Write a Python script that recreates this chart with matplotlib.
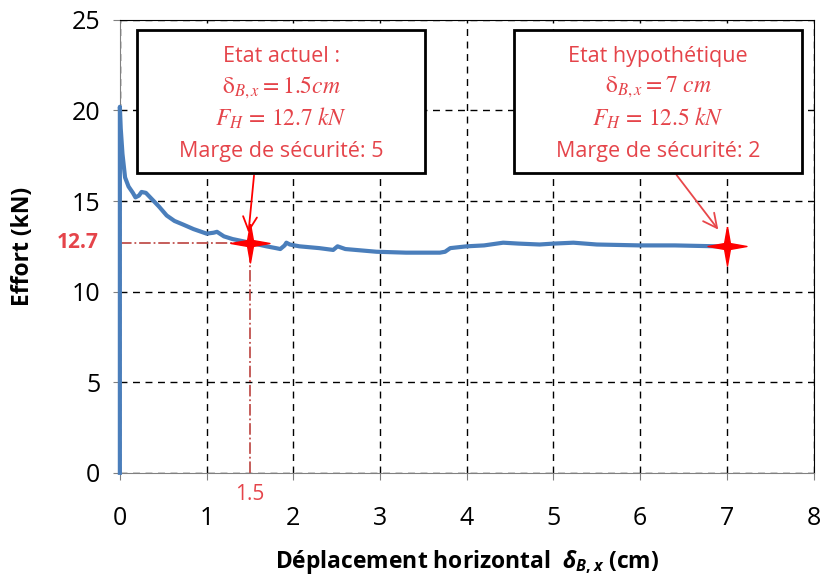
import matplotlib.pyplot as plt
from matplotlib.path import Path
from matplotlib.patches import Rectangle

plt.rcParams['font.family'] = ['Open Sans', 'DejaVu Sans']
plt.rcParams['mathtext.fontset'] = 'custom'
plt.rcParams['mathtext.it'] = 'Open Sans:italic:bold'
plt.rcParams['mathtext.rm'] = 'Open Sans:bold'

# courbe effort / deplacement
depl = [0, 0, 0.01, 0.03, 0.06, 0.1, 0.15, 0.18, 0.22, 0.25, 0.3, 0.35, 0.45, 0.54,
        0.63, 0.73, 0.85, 1.0, 1.08, 1.12, 1.2, 1.3, 1.5, 1.69, 1.8, 1.85, 1.9, 1.92,
        1.96, 2.07, 2.3, 2.46, 2.51, 2.6, 2.96, 3.3, 3.69, 3.75, 3.81, 4.0, 4.2, 4.42,
        4.6, 4.84, 5.0, 5.23, 5.5, 6.0, 6.4, 6.89, 7.0]
effort = [0, 20.2, 19.0, 17.6, 16.3, 15.8, 15.45, 15.2, 15.3, 15.5, 15.45, 15.2, 14.7, 14.2,
          13.9, 13.7, 13.45, 13.2, 13.25, 13.3, 13.05, 12.9, 12.7, 12.5, 12.4, 12.35, 12.55, 12.7,
          12.6, 12.5, 12.4, 12.3, 12.5, 12.35, 12.2, 12.15, 12.15, 12.2, 12.4, 12.5, 12.55, 12.7,
          12.65, 12.6, 12.65, 12.7, 12.6, 12.55, 12.55, 12.5, 12.5]

# points remarquables
pts_x = [1.5, 7.0]
pts_y = [12.7, 12.5]
titres = ["Etat actuel :", "Etat hypothétique"]
lignes_delta = [r"$\mathrm{\delta}_{B,x} = 1.5cm$", r"$\mathrm{\delta}_{B,x} = 7\ cm$"]
lignes_f = [r"$F_H\,=\,12.7\;kN$", r"$F_H\,=\,12.5\;kN$"]
marges = ["Marge de sécurité: 5", "Marge de sécurité: 2"]

red_txt = '#E5444A'
star = Path([(0, 1), (0.15, 0.15), (1, 0), (0.15, -0.15), (0, -1), (-0.15, -0.15),
             (-1, 0), (-0.15, 0.15), (0, 1)])

fig = plt.figure(figsize=(8.21, 5.83), dpi=100)
ax = fig.add_axes([0.146, 0.189, 0.845, 0.777])

ax.plot(depl, effort, color='#4A7EBB', lw=3, zorder=3, clip_on=False)

# lignes de rappel
ax.plot([0, pts_x[0]], [pts_y[0], pts_y[0]], color='#C0504D', lw=1.3, ls='-.', zorder=2)
ax.plot([pts_x[0], pts_x[0]], [0, pts_y[0]], color='#C0504D', lw=1.3, ls='-.', zorder=2)
ax.plot(pts_x, pts_y, ls='none', marker=star, ms=28, color='red', zorder=5, clip_on=False)

# cadres d'annotation
boites = [(0.2, 3.52), (4.54, 7.87)]
for (x0, x1), t, d, f, m in zip(boites, titres, lignes_delta, lignes_f, marges):
    ax.add_patch(Rectangle((x0, 16.56), x1 - x0, 24.45 - 16.56, fc='white', ec='black',
                           lw=2, zorder=6))
    xc = (x0 + x1) / 2
    ax.text(xc, 23.0, t, ha='center', va='center', color=red_txt, fontsize=15.5, zorder=7)
    ax.text(xc, 21.25, d, ha='center', va='center', color=red_txt, fontsize=17, zorder=7,
            math_fontfamily='stix')
    ax.text(xc, 19.5, f, ha='center', va='center', color=red_txt, fontsize=17, zorder=7,
            math_fontfamily='stix')
    ax.text(xc, 17.75, m, ha='center', va='center', color=red_txt, fontsize=15.5, zorder=7)

ax.annotate('', xy=(1.48, 13.1), xytext=(1.55, 16.56),
            arrowprops=dict(arrowstyle='->,head_length=1.0,head_width=0.5', color='red', lw=1.3),
            zorder=4)
ax.annotate('', xy=(6.92, 13.3), xytext=(6.4, 16.56),
            arrowprops=dict(arrowstyle='->,head_length=1.0,head_width=0.5', color='#E8474A', lw=1.3),
            zorder=4)

ax.set_xlim(0, 8)
ax.set_ylim(0, 25)
ax.set_xticks(range(0, 9))
ax.set_yticks(range(0, 26, 5))
ax.tick_params(labelsize=18, direction='out', length=5, color='#808080')
ax.tick_params(axis='x', pad=19)
ax.tick_params(axis='y', pad=9)
ax.grid(True, color='black', ls=(0, (5, 4)), lw=1)
ax.set_axisbelow(True)
for s in ax.spines.values():
    s.set_color('#808080')
ax.spines['top'].set_color('black')
ax.spines['right'].set_color('black')

ax.text(-0.24, pts_y[0], '12.7', ha='right', va='center', color=red_txt,
        fontsize=15, fontweight='bold')
ax.text(pts_x[0], -0.6, '1.5', ha='center', va='top', color=red_txt, fontsize=15)

ax.set_ylabel('Effort (kN)', fontsize=16.5, fontweight='bold')
ax.yaxis.set_label_coords(-0.122, 0.5)
ax.set_xlabel(r'Déplacement horizontal  $\delta_{B,x}$ (cm)', fontsize=16.5,
              fontweight='bold', labelpad=12)

fig.savefig('out.png', dpi=100)
